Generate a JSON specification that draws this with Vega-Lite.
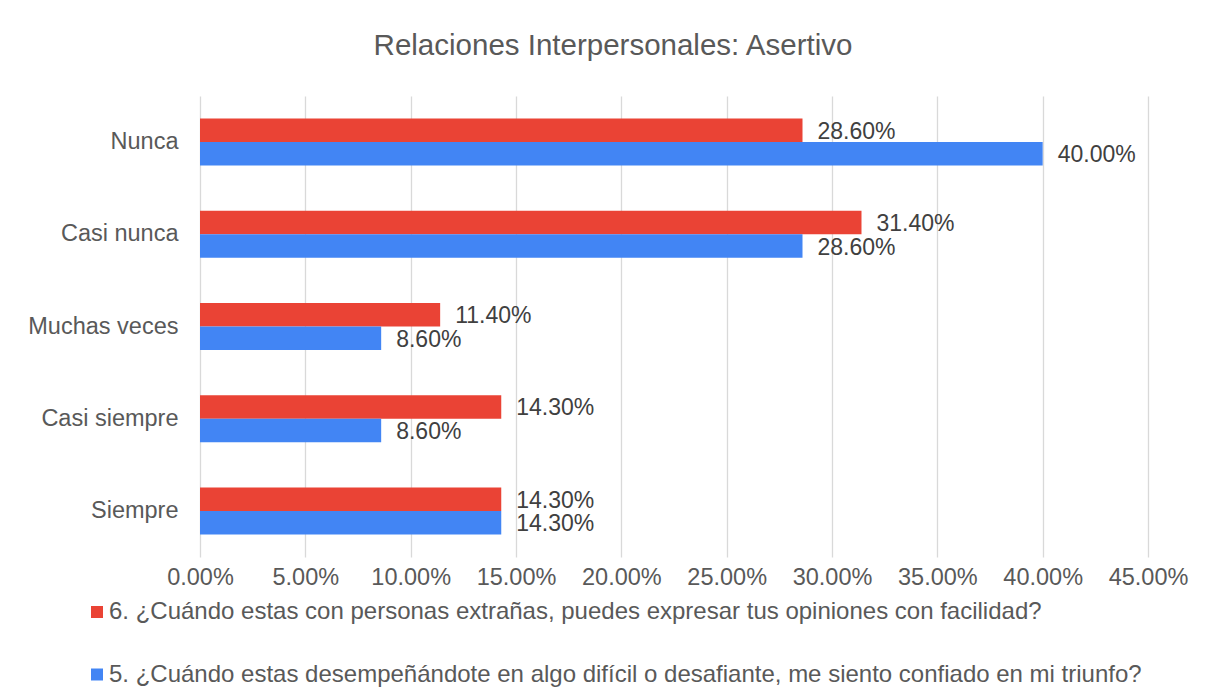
{
  "$schema": "https://vega.github.io/schema/vega-lite/v6.json",
  "width": 948,
  "height": 461,
  "autosize": {"type": "none"},
  "padding": {"left": 200, "top": 96, "right": 67, "bottom": 141},
  "background": "white",
  "config": {"view": {"stroke": null}},
  "title": {
    "text": "Relaciones Interpersonales: Asertivo",
    "font": "Liberation Sans",
    "fontSize": 29.5,
    "fontWeight": "normal",
    "color": "#595959",
    "anchor": "middle",
    "dx": -61,
    "offset": 35
  },
  "data": {
    "values": [
      {"cat": "Nunca", "serie": "6. ¿Cuándo estas con personas extrañas, puedes expresar tus opiniones con facilidad?", "v": 0.286},
      {"cat": "Nunca", "serie": "5. ¿Cuándo estas desempeñándote en algo difícil o desafiante, me siento confiado en mi triunfo?", "v": 0.40},
      {"cat": "Casi nunca", "serie": "6. ¿Cuándo estas con personas extrañas, puedes expresar tus opiniones con facilidad?", "v": 0.314},
      {"cat": "Casi nunca", "serie": "5. ¿Cuándo estas desempeñándote en algo difícil o desafiante, me siento confiado en mi triunfo?", "v": 0.286},
      {"cat": "Muchas veces", "serie": "6. ¿Cuándo estas con personas extrañas, puedes expresar tus opiniones con facilidad?", "v": 0.114},
      {"cat": "Muchas veces", "serie": "5. ¿Cuándo estas desempeñándote en algo difícil o desafiante, me siento confiado en mi triunfo?", "v": 0.086},
      {"cat": "Casi siempre", "serie": "6. ¿Cuándo estas con personas extrañas, puedes expresar tus opiniones con facilidad?", "v": 0.143},
      {"cat": "Casi siempre", "serie": "5. ¿Cuándo estas desempeñándote en algo difícil o desafiante, me siento confiado en mi triunfo?", "v": 0.086},
      {"cat": "Siempre", "serie": "6. ¿Cuándo estas con personas extrañas, puedes expresar tus opiniones con facilidad?", "v": 0.143},
      {"cat": "Siempre", "serie": "5. ¿Cuándo estas desempeñándote en algo difícil o desafiante, me siento confiado en mi triunfo?", "v": 0.143}
    ]
  },
  "encoding": {
    "y": {
      "field": "cat",
      "type": "nominal",
      "sort": ["Nunca", "Casi nunca", "Muchas veces", "Casi siempre", "Siempre"],
      "scale": {"paddingInner": 0.49, "paddingOuter": 0.245},
      "axis": {
        "title": null,
        "domain": false,
        "ticks": false,
        "labelPadding": 22,
        "labelFont": "Liberation Sans",
        "labelFontSize": 23.5,
        "labelColor": "#595959"
      }
    },
    "yOffset": {
      "field": "serie",
      "type": "nominal",
      "sort": [
        "6. ¿Cuándo estas con personas extrañas, puedes expresar tus opiniones con facilidad?",
        "5. ¿Cuándo estas desempeñándote en algo difícil o desafiante, me siento confiado en mi triunfo?"
      ]
    },
    "x": {
      "field": "v",
      "type": "quantitative",
      "scale": {"domain": [0, 0.45], "nice": false},
      "axis": {
        "title": null,
        "format": ".2%",
        "values": [0, 0.05, 0.1, 0.15, 0.2, 0.25, 0.3, 0.35, 0.4, 0.45],
        "domain": false,
        "ticks": false,
        "grid": true,
        "gridColor": "#d9d9d9",
        "gridWidth": 1.3,
        "labelFlush": false,
        "labelOverlap": false,
        "labelPadding": 8,
        "labelFont": "Liberation Sans",
        "labelFontSize": 23.5,
        "labelColor": "#595959"
      }
    }
  },
  "layer": [
    {
      "mark": {"type": "bar"},
      "encoding": {
        "color": {
          "field": "serie",
          "type": "nominal",
          "sort": [
            "6. ¿Cuándo estas con personas extrañas, puedes expresar tus opiniones con facilidad?",
            "5. ¿Cuándo estas desempeñándote en algo difícil o desafiante, me siento confiado en mi triunfo?"
          ],
          "scale": {"range": ["#EA4335", "#4285F4"]},
          "legend": {
            "title": null,
            "orient": "none",
            "legendX": -115,
            "legendY": 504,
            "direction": "vertical",
            "symbolType": "square",
            "symbolSize": 144,
            "symbolStrokeWidth": 0,
            "labelFont": "Liberation Sans",
            "labelFontSize": 24,
            "labelColor": "#595959",
            "labelLimit": 1200,
            "labelOffset": 0,
            "rowPadding": 38.5
          }
        }
      }
    },
    {
      "mark": {"type": "text", "align": "left", "baseline": "middle", "dx": 15, "dy": 1.5, "font": "Liberation Sans", "fontSize": 23, "color": "#404040"},
      "encoding": {
        "text": {"field": "v", "type": "quantitative", "format": ".2%"}
      }
    }
  ]
}
